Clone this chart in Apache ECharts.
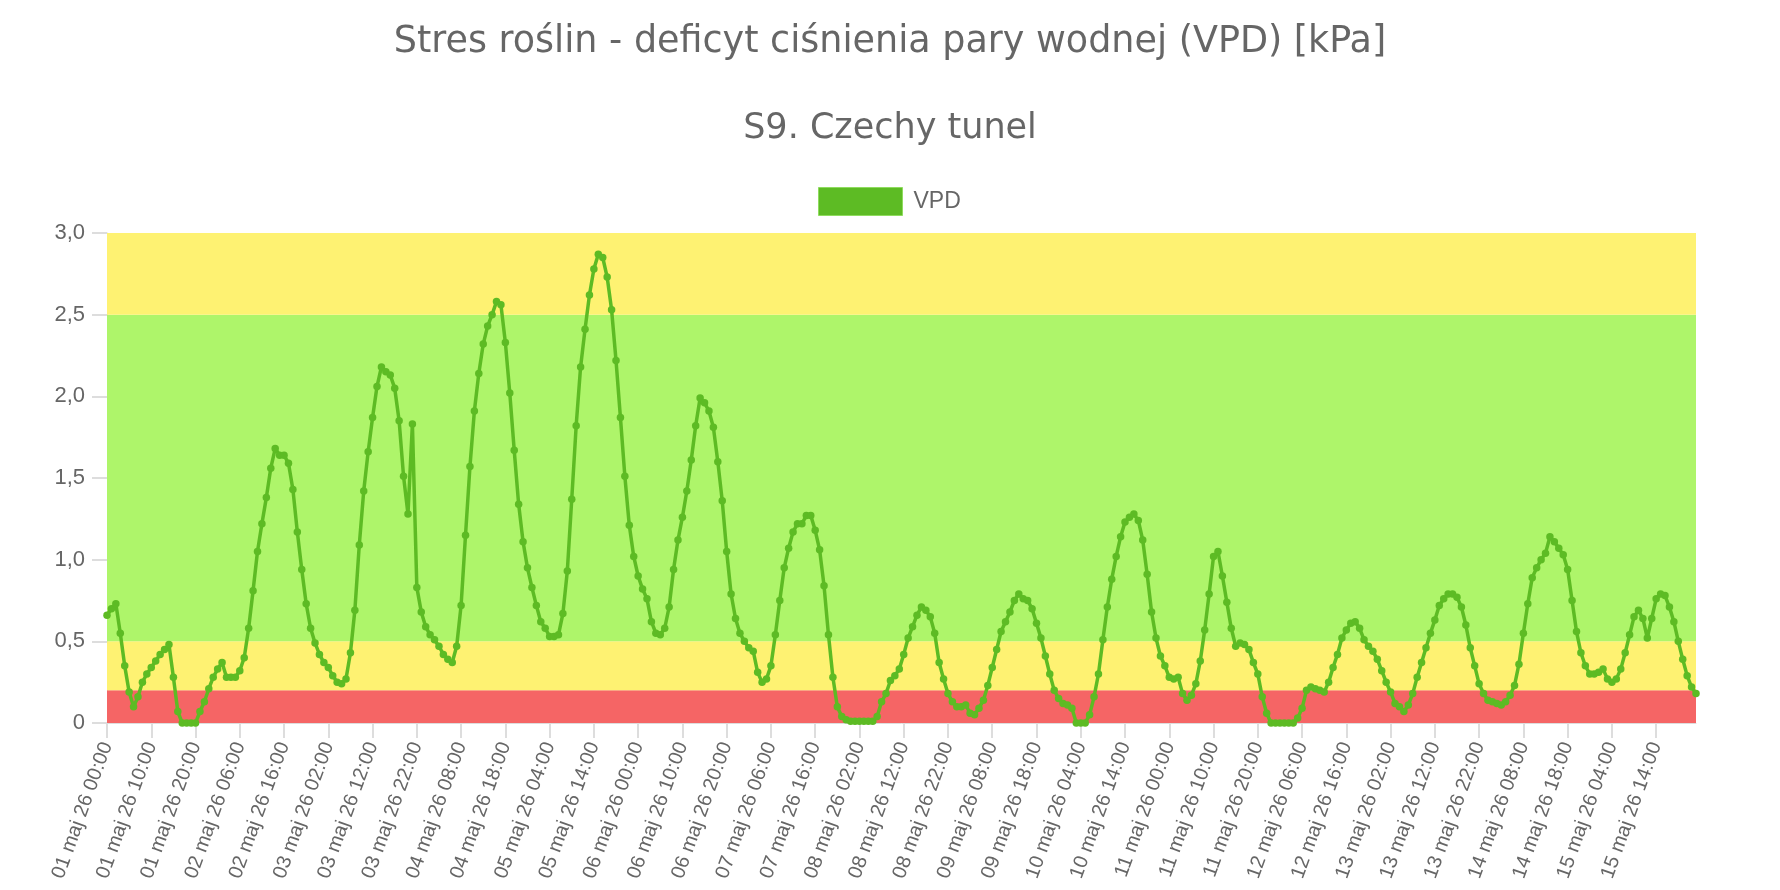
<!DOCTYPE html>
<html>
<head>
<meta charset="utf-8">
<script src="https://cdn.jsdelivr.net/npm/echarts@6/dist/echarts.min.js"></script>
<style>
html,body{margin:0;padding:0;background:#fff;}
#chart{width:1780px;height:890px;}
</style>
</head>
<body>
<div id="chart"></div>
<script>
const titleText = 'Stres roślin - deficyt ciśnienia pary wodnej (VPD) [kPa]';
const subtitleText = 'S9. Czechy tunel';
const seriesName = 'VPD';
const days = ['01','02','03','04','05','06','07','08','09','10','11','12','13','14','15'];
const monthLabel = 'maj';
const yearLabel = '26';
const yTickLabels = ['0','0,5','1,0','1,5','2,0','2,5','3,0'];

// hourly VPD values [kPa], one array per day (00:00 ... 23:00)
const vpdDay01 = [0.66,0.70,0.73,0.55,0.35,0.19,0.10,0.16,0.25,0.30,0.34,0.38,0.42,0.45,0.48,0.28,0.07,0,0,0,0,0.07,0.13,0.21];
const vpdDay02 = [0.28,0.33,0.37,0.28,0.28,0.28,0.32,0.40,0.58,0.81,1.05,1.22,1.38,1.56,1.68,1.64,1.64,1.59,1.43,1.17,0.94,0.73,0.58,0.49];
const vpdDay03 = [0.42,0.37,0.34,0.29,0.25,0.24,0.27,0.43,0.69,1.09,1.42,1.66,1.87,2.06,2.18,2.15,2.13,2.05,1.85,1.51,1.28,1.83,0.83,0.68];
const vpdDay04 = [0.59,0.54,0.51,0.47,0.42,0.39,0.37,0.47,0.72,1.15,1.57,1.91,2.14,2.32,2.43,2.50,2.58,2.56,2.33,2.02,1.67,1.34,1.11,0.95];
const vpdDay05 = [0.83,0.72,0.62,0.58,0.53,0.53,0.54,0.67,0.93,1.37,1.82,2.18,2.41,2.62,2.78,2.87,2.85,2.73,2.53,2.22,1.87,1.51,1.21,1.02];
const vpdDay06 = [0.90,0.82,0.76,0.62,0.55,0.54,0.58,0.71,0.94,1.12,1.26,1.42,1.61,1.82,1.99,1.96,1.91,1.81,1.60,1.36,1.05,0.79,0.64,0.55];
const vpdDay07 = [0.50,0.46,0.44,0.31,0.25,0.27,0.35,0.54,0.75,0.95,1.07,1.17,1.22,1.22,1.27,1.27,1.18,1.06,0.84,0.54,0.28,0.10,0.04,0.02];
const vpdDay08 = [0.01,0.01,0.01,0.01,0.01,0.01,0.04,0.13,0.18,0.26,0.29,0.33,0.42,0.52,0.59,0.66,0.71,0.69,0.65,0.55,0.37,0.27,0.18,0.13];
const vpdDay09 = [0.10,0.10,0.11,0.06,0.05,0.09,0.14,0.23,0.34,0.45,0.56,0.62,0.68,0.75,0.79,0.76,0.75,0.70,0.61,0.52,0.41,0.30,0.20,0.15];
const vpdDay10 = [0.12,0.11,0.09,0,0,0,0.05,0.16,0.30,0.51,0.71,0.88,1.02,1.14,1.23,1.26,1.28,1.24,1.12,0.91,0.68,0.52,0.41,0.35];
const vpdDay11 = [0.28,0.27,0.28,0.18,0.14,0.17,0.24,0.38,0.57,0.79,1.02,1.05,0.90,0.74,0.58,0.47,0.49,0.48,0.45,0.37,0.30,0.16,0.06,0];
const vpdDay12 = [0,0,0,0,0,0.03,0.09,0.20,0.22,0.21,0.20,0.19,0.25,0.34,0.42,0.52,0.57,0.61,0.62,0.58,0.51,0.47,0.44,0.39];
const vpdDay13 = [0.32,0.25,0.19,0.12,0.10,0.07,0.11,0.18,0.28,0.37,0.46,0.55,0.63,0.72,0.76,0.79,0.79,0.77,0.71,0.60,0.46,0.35,0.24,0.18];
const vpdDay14 = [0.14,0.13,0.12,0.11,0.13,0.17,0.23,0.36,0.55,0.73,0.89,0.95,1.00,1.04,1.14,1.11,1.07,1.03,0.94,0.75,0.56,0.43,0.35,0.30];
const vpdDay15 = [0.30,0.31,0.33,0.27,0.25,0.27,0.33,0.43,0.54,0.65,0.69,0.64,0.52,0.64,0.76,0.79,0.78,0.71,0.62,0.50,0.39,0.29,0.22,0.18];

// stress bands [from, to] in kPa
const bandRed = [0, 0.2];
const bandYellowLow = [0.2, 0.5];
const bandGreen = [0.5, 2.5];
const bandYellowHigh = [2.5, 3.0];

const vpdDays = [vpdDay01,vpdDay02,vpdDay03,vpdDay04,vpdDay05,vpdDay06,vpdDay07,vpdDay08,vpdDay09,vpdDay10,vpdDay11,vpdDay12,vpdDay13,vpdDay14,vpdDay15];
const categories = [];
const values = [];
days.forEach((d, i) => {
  vpdDays[i].forEach((v, h) => {
    categories.push(d + ' ' + monthLabel + ' ' + yearLabel + ' ' + String(h).padStart(2,'0') + ':00');
    values.push(v);
  });
});

const C_YELLOW = '#fef272';
const C_GREEN = '#aef56a';
const C_RED = '#f56565';
const C_LINE = '#5dbb24';
const AXIS_FONT = '"Liberation Sans", Arial, sans-serif';
const TITLE_FONT = '"DejaVu Sans", "Noto Sans", sans-serif';

const chart = echarts.init(document.getElementById('chart'), null, {renderer:'canvas'});
chart.setOption({
  animation: false,
  backgroundColor: '#ffffff',
  title: [
    {text: titleText, left: 'center', top: 19, textStyle: {fontFamily: TITLE_FONT, fontSize: 36.5, fontWeight: 'normal', color: '#666666'}},
    {text: subtitleText, left: 'center', top: 106, textStyle: {fontFamily: TITLE_FONT, fontSize: 35, fontWeight: 'normal', color: '#666666'}}
  ],
  legend: {
    data: [{name: seriesName, icon: 'rect'}],
    top: 182,
    left: 813,
    itemWidth: 84,
    itemHeight: 28,
    itemGap: 10,
    itemStyle: {color: C_LINE, borderColor: '#8fdc5e', borderWidth: 1},
    textStyle: {fontFamily: AXIS_FONT, fontSize: 23, color: '#666666', padding: [0, 0, 0, 6]}
  },
  grid: {left: 107, right: 84, top: 233, bottom: 167, containLabel: false},
  xAxis: {
    type: 'category',
    data: categories,
    boundaryGap: false,
    axisLine: {show: true, lineStyle: {color: '#dddddd', width: 1}},
    axisTick: {show: true, interval: 9, length: 15, lineStyle: {color: '#dddddd', width: 2}},
    axisLabel: {interval: 9, rotate: 70, margin: 20, fontFamily: AXIS_FONT, fontSize: 20, color: '#666666'},
    splitLine: {show: false}
  },
  yAxis: {
    type: 'value',
    min: 0, max: 3, interval: 0.5,
    axisLine: {show: true, lineStyle: {color: '#dddddd', width: 1}},
    axisTick: {show: true, length: 15, lineStyle: {color: '#dddddd', width: 2}},
    axisLabel: {margin: 22, fontFamily: AXIS_FONT, fontSize: 22, color: '#666666',
      formatter: function(v){ return yTickLabels[Math.round(v/0.5)]; }},
    splitLine: {show: false}
  },
  series: [
    {
      name: 'bands', type: 'line', data: [], silent: true, z: 1,
      markArea: {
        silent: true,
        data: [
          [{yAxis: bandRed[0], itemStyle: {color: C_RED}}, {yAxis: bandRed[1]}],
          [{yAxis: bandYellowLow[0], itemStyle: {color: C_YELLOW}}, {yAxis: bandYellowLow[1]}],
          [{yAxis: bandGreen[0], itemStyle: {color: C_GREEN}}, {yAxis: bandGreen[1]}],
          [{yAxis: bandYellowHigh[0], itemStyle: {color: C_YELLOW}}, {yAxis: bandYellowHigh[1]}]
        ]
      }
    },
    {
      name: seriesName, type: 'line', data: values, z: 5,
      symbol: 'circle', symbolSize: 7.5, showAllSymbol: true,
      lineStyle: {color: C_LINE, width: 3.5},
      itemStyle: {color: C_LINE}
    }
  ]
});
</script>
</body>
</html>
